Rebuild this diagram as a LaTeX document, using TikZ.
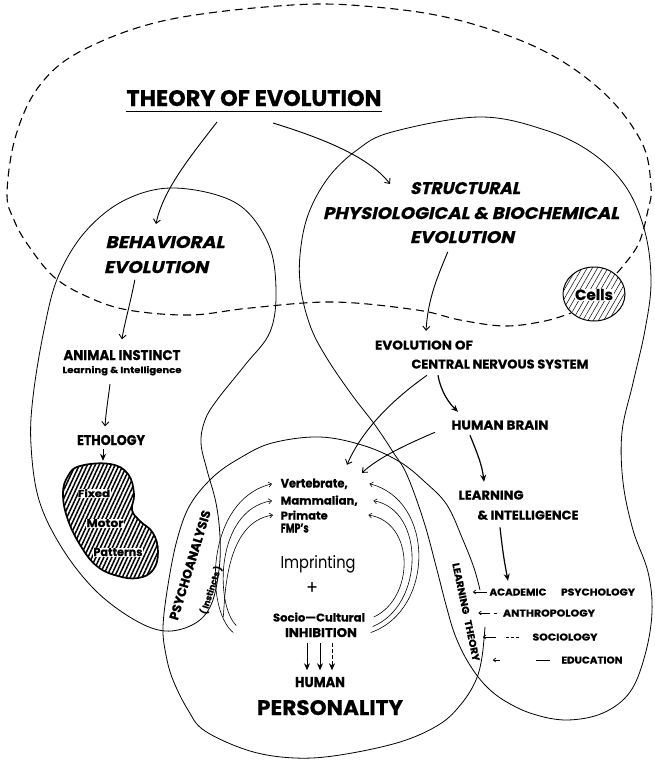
\documentclass[tikz,border=0pt]{standalone}
\usepackage{fontspec}
\setmainfont{Poppins}[BoldFeatures={FakeBold=0.6}]
\usetikzlibrary{arrows.meta,patterns.meta}
% set a label to an exact width and cap height
\newcommand{\fit}[3]{\resizebox{#1pt}{#2pt}{#3}}

\begin{document}
\begin{tikzpicture}[x=1pt,y=-1pt,
  txt/.style={font=\bfseries, inner sep=0.5pt, anchor=base},
  reg/.style={inner sep=0.5pt, anchor=base},
  oblique/.style={txt, xslant=0.22},
  outline/.style={line width=0.8pt, line join=round},
  evo/.style={line width=1.1pt, dash pattern=on 8pt off 5pt},
  barb/.style={line width=0.9pt, -{Straight Barb[length=4pt,width=7pt]}},
  fatarrow/.style={line width=1.2pt, -{Stealth[length=7pt,width=6pt]}},
  arcline/.style={line width=0.6pt, -{Straight Barb[length=3pt,width=5pt]}},
  smallarrow/.style={line width=0.7pt, -{Straight Barb[length=2.5pt,width=4pt]}},
  hatchthick/.style={pattern={Lines[angle=65,distance=3.6pt,line width=1.5pt]}},
  hatchfine/.style={pattern={Lines[angle=60,distance=4.5pt,line width=0.5pt]}},
]
\useasboundingbox (0,0) rectangle (654,763);
\fill[white] (0,0) rectangle (654,763);

% ---------- regions ----------
% evolution (dashed) region, ending on the cell blob
\draw[evo] plot[smooth, tension=0.6] coordinates {(617,273) (638,245) (648,210) (651,187) (642,143) (604,93) (542,50) (458,20) (375,7) (292,5) (167,20) (83,50) (40,85) (16,135) (7,193) (14,220) (28,245) (54,277) (88,297) (128,310) (190,315) (250,308) (333,302) (417,310) (460,320) (505,326) (545,321) (571,313)};

% cells
\draw[line width=1pt, hatchfine] (594,294) ellipse [x radius=31pt, y radius=27pt];

% behavioural branch
\draw[outline] plot[smooth cycle, tension=0.6] coordinates {(175,188) (125,200) (85,232) (58,277) (44,330) (33,397) (31,445) (39,500) (62,548) (95,590) (133,619) (165,631) (194,624) (211,605) (219,570) (220,537) (216,503) (207,470) (201,443) (205,420) (217,400) (245,365) (270,332) (276,290) (268,243) (236,203)};

% structural branch
\draw[outline] plot[smooth cycle, tension=0.6] coordinates {(392,132) (479,117) (545,130) (592,153) (626,187) (645,232) (651,282) (645,330) (633,383) (622,432) (623,482) (633,530) (648,572) (652,612) (645,655) (630,692) (603,713) (567,720) (533,714) (505,701) (485,685) (468,662) (455,635) (446,605) (437,570) (424,522) (407,475) (393,452) (375,425) (352,395) (328,360) (311,328) (301,290) (300,255) (308,215) (328,178) (357,150)};

% human personality region (open where the disciplines enter)
\draw[outline] plot[smooth, tension=0.6] coordinates {(485,627) (482,657) (476,680) (462,703) (440,724) (400,742) (340,755) (295,758) (250,751) (205,731) (188,710) (173,680) (166,655) (163,627) (168,585) (177,540) (190,505) (213,477) (240,458) (272,443) (320,437) (365,446) (400,462) (425,482) (447,505) (463,540) (474,568) (480,590)};

% fixed motor patterns
\draw[line width=1.7pt, hatchthick] plot[smooth cycle, tension=0.7] coordinates {(80,466) (110,464) (128,474) (134,494) (132,510) (140,521) (153,533) (158,552) (153,570) (138,578) (118,576) (98,567) (82,548) (68,520) (63,494) (68,476)};

% ---------- labels ----------
\node[txt] (theory) at (254,106) {\fit{255}{16}{THEORY OF EVOLUTION}};
\draw[line width=1.2pt] ([yshift=-5pt]theory.south west) -- ([yshift=-5pt]theory.south east);

\node[oblique] (str1) at (465,194) {\fit{110}{12}{STRUCTURAL}};
\node[oblique] (str2) at (471,219) {\fit{296}{12}{PHYSIOLOGICAL \& BIOCHEMICAL}};
\node[oblique] (str3) at (462,243) {\fit{104}{12}{EVOLUTION}};

\node[oblique] (beh1) at (165,248) {\fit{119}{12}{BEHAVIORAL}};
\node[oblique] (beh2) at (156,273) {\fit{104}{12}{EVOLUTION}};

\node[txt] (animal) at (122,360) {\fit{117}{10}{ANIMAL INSTINCT}};
\node[txt] (animalsub) at (122,373) {\fit{119}{7}{Learning \& Intelligence}};
\node[txt] (etho) at (111,445) {\fit{68}{10}{ETHOLOGY}};
\node[txt, fill=white] (fixed) at (94,497) {\fit{32}{8}{Fixed}};
\node[txt, fill=white] (motor) at (105,527) {\fit{37}{8}{Motor}};
\node[txt, fill=white] (patterns) at (118,556) {\fit{49}{8}{Patterns}};

\node[txt, fill=white] (cells) at (594,300) {\fit{38}{11}{Cells}};

\node[txt] (evolof) at (424,349.5) {\fit{98}{9}{EVOLUTION OF}};
\node[txt] (cns) at (500,368.5) {\fit{177}{9}{CENTRAL NERVOUS SYSTEM}};
\node[txt] (brain) at (500,429.5) {\fit{97}{9}{HUMAN BRAIN}};
\node[txt] (learn) at (491,499.5) {\fit{65}{9}{LEARNING}};
\node[txt] (intel) at (528,519.5) {\fit{101}{9}{\& INTELLIGENCE}};

\node[txt] (acad) at (518,595.5) {\fit{57}{7}{ACADEMIC}};
\node[txt] (psych) at (598,595.5) {\fit{74}{7}{PSYCHOLOGY}};
\node[txt] (anthro) at (549,616.5) {\fit{92}{7}{ANTHROPOLOGY}};
\node[txt] (socio) at (565,640.5) {\fit{65}{7}{SOCIOLOGY}};
\node[txt] (educ) at (592,663.5) {\fit{61}{7}{EDUCATION}};

\node[txt, anchor=base west] (vert) at (280,487.5) {\fit{67}{9}{Vertebrate,}};
\node[txt, anchor=base west] (mamm) at (280,504.5) {\fit{77}{9}{Mammalian,}};
\node[txt, anchor=base west] (prim) at (280,519.5) {\fit{47}{9}{Primate}};
\node[txt, anchor=base west] (fmps) at (280,532.5) {\fit{28}{9}{FMP's}};

\node[reg] (imprint) at (318,568) {\fit{75}{13}{Imprinting}};
\node[reg, anchor=center] (plus) at (312,588) {\fit{12}{12}{+}};
\node[txt] (soccult) at (319,621.5) {\fit{92}{9}{Socio—Cultural}};
\node[txt] (inhib) at (321,637) {\fit{72}{9}{INHIBITION}};
\node[txt] (human) at (320,687) {\fit{50}{10}{HUMAN}};
\node[txt] (person) at (330,715) {\fit{146}{15}{PERSONALITY}};

\node[txt, anchor=center, rotate=73] (psa) at (190,565) {\fit{114}{9}{PSYCHOANALYSIS}};
\node[txt, anchor=center, rotate=72] (inst) at (211,590) {\fit{50}{8}{( Instincts )}};
\node[txt, anchor=center, rotate=-78] (lth) at (466,612) {\fit{100}{7}{LEARNING\hspace{6pt}THEORY}};

% ---------- connectors ----------
\coordinate (theoryL) at (217,122);
\coordinate (theoryR) at (273,123);
\coordinate (behIn) at (156,224);
\coordinate (strIn) at (390,184);
\draw[barb] (theoryL) .. controls (190,157) and (163,190) .. (behIn);
\draw[barb] (theoryR) .. controls (315,136) and (368,155) .. (strIn);

\draw[barb] (beh2.south) ++(-21,6) coordinate (behOut) .. controls (130,305) and (124,325) .. ([xshift=0pt,yshift=10pt]animal.north);
\draw[barb] ([xshift=-12pt,yshift=-8pt]animalsub.south) .. controls (108,400) and (106,412) .. ([xshift=-6pt,yshift=8pt]etho.north);
\draw[fatarrow, line width=1pt] ([xshift=-8pt,yshift=-3pt]etho.south) -- ++(0,12);

\draw[barb] ([xshift=-14pt,yshift=-8pt]str3.south) .. controls (436,280) and (428,300) .. ([xshift=2pt,yshift=9pt]evolof.north);

\draw[fatarrow] ([xshift=-62pt,yshift=-6pt]cns.south) .. controls (441,392) and (449,403) .. ([xshift=-42pt,yshift=8pt]brain.north);
\draw[fatarrow] ([xshift=-30pt,yshift=-5pt]brain.south) .. controls (478,455) and (482,465) .. ([xshift=-7pt,yshift=8pt]learn.north);
\draw[fatarrow] ([xshift=-28pt,yshift=-7pt]intel.south) .. controls (503,555) and (505,565) .. ([xshift=-10pt,yshift=7pt]acad.north);

\draw[barb] ([xshift=-73pt,yshift=-6pt]cns.south) .. controls (392,400) and (362,430) .. ([xshift=67pt,yshift=13pt]vert.north west);
\draw[barb] ([xshift=-65pt,yshift=-2pt]brain.south) .. controls (405,445) and (378,458) .. ([xshift=82pt,yshift=5pt]vert.north west);

% imprinting arcs, left side toward the FMP's
\draw[arcline] ([xshift=-51pt]inhib.west) .. controls (205,610) and (205,500) .. ([xshift=-8pt]vert.west);
\draw[arcline] ([xshift=-48pt,yshift=7pt]inhib.west) .. controls (215,605) and (215,510) .. ([xshift=-8pt]mamm.west);
\draw[arcline] ([xshift=-49pt]soccult.west) .. controls (225,598) and (225,522) .. ([xshift=-7pt]prim.west);
% right side
\draw[arcline] ([xshift=13pt]inhib.east) .. controls (435,610) and (435,500) .. ([xshift=21pt]vert.east);
\draw[arcline] ([xshift=15pt,yshift=6pt]inhib.east) .. controls (425,605) and (425,510) .. ([xshift=15pt]mamm.east);
\draw[arcline] ([xshift=8pt]soccult.east) .. controls (415,598) and (415,522) .. ([xshift=40pt]prim.east);

% down to human personality
\draw[fatarrow, line width=1pt] ([xshift=-14pt,yshift=-5pt]inhib.south) -- ([xshift=-13pt,yshift=6pt]human.north);
\draw[fatarrow, line width=1pt] ([xshift=-1pt,yshift=-5pt]inhib.south) -- ([xshift=0pt,yshift=6pt]human.north);
\draw[fatarrow, line width=1pt, dash pattern=on 4pt off 2pt] ([xshift=11pt,yshift=-5pt]inhib.south) -- ([xshift=12pt,yshift=6pt]human.north);

% disciplines feeding learning theory
\draw[smallarrow] ([xshift=-2pt]acad.west) -- ++(-14,0);
\draw[smallarrow] ([xshift=-12pt]anthro.west) -- ++(-12,0);
\draw[line width=0.7pt] ([xshift=-5pt]anthro.west) -- ++(-3,0);
\draw[dash pattern=on 3pt off 2pt, line width=0.7pt] ([xshift=-13pt]socio.west) -- ++(-15,0);
\draw[smallarrow] ([xshift=-36pt]socio.west) -- ++(-13,0);
\draw[line width=0.8pt] ([xshift=-11pt]educ.west) -- ++(-14,0);
\draw[smallarrow] ([xshift=-61pt]educ.west) -- ++(-7,0);
\end{tikzpicture}
\end{document}
